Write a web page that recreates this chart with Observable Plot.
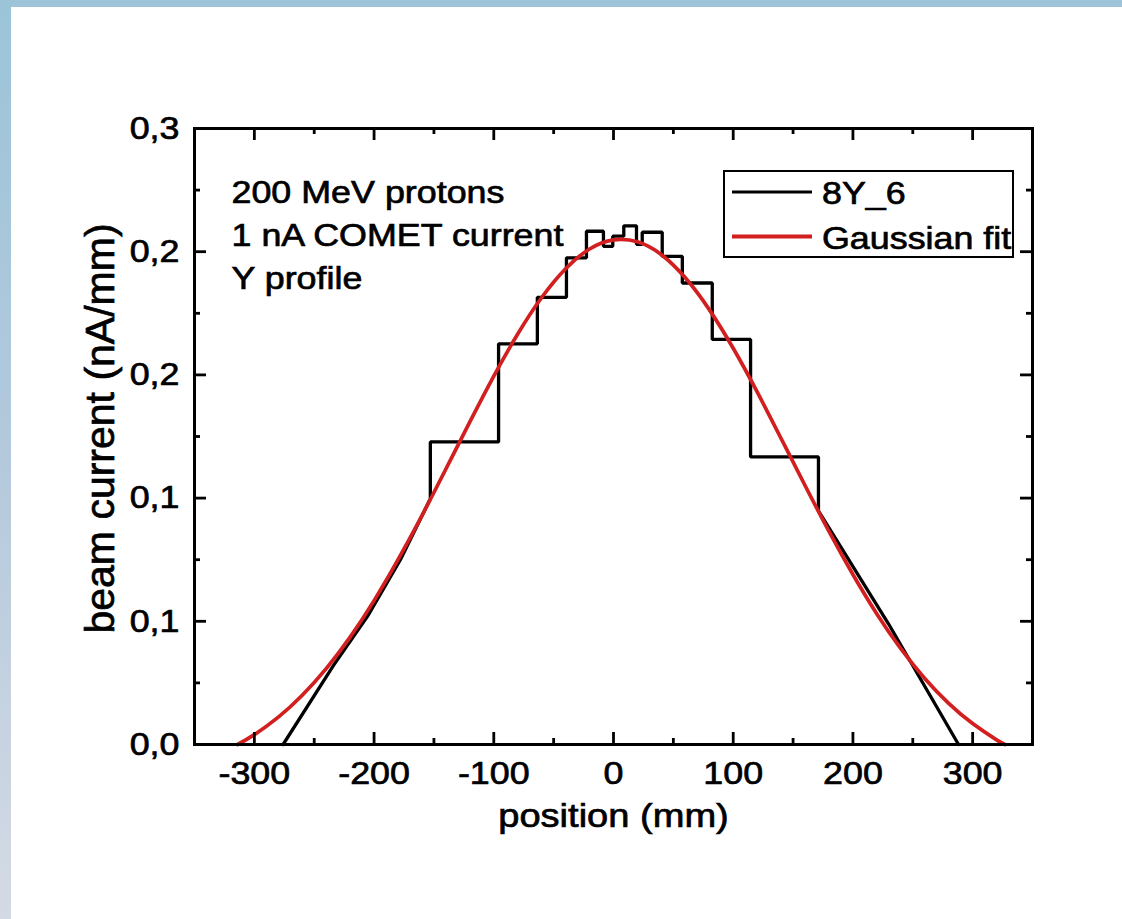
<!DOCTYPE html>
<html><head><meta charset="utf-8">
<script src="https://cdn.jsdelivr.net/npm/d3@7"></script>
<script src="https://cdn.jsdelivr.net/npm/@observablehq/plot@0.6"></script>
<style>
html,body{margin:0;padding:0;background:#fff;}
#wrap{position:relative;width:1122px;height:919px;overflow:hidden;background:#fff;}
#topbar{position:absolute;left:0;top:0;width:1122px;height:7px;background:#9dc4d8;z-index:2}
#leftbar{position:absolute;left:0;top:0;width:11px;height:919px;background:linear-gradient(#9bc4d9,#b4c9dc 50%,#d4dae4);z-index:2}
#chart{position:absolute;left:0;top:0;}
</style></head><body>
<div id="wrap"><div id="chart"></div><div id="topbar"></div><div id="leftbar"></div></div>
<script>
// ---- data ----
const blackX = [-276,-234,-205.5,-178,-153,-153,-96,-96,-63.6,-63.6,-39.3,-39.3,-22.6,-22.6,-8.4,-8.4,-0.6,-0.6,8.6,8.6,19.2,19.2,24,24,40.7,40.7,57.5,57.5,82.5,82.5,114.5,114.5,171.2,171.2,229.7,288.2];
const blackY = [0,0.032,0.052,0.075,0.0997,0.1228,0.1228,0.1626,0.1626,0.1815,0.1815,0.1975,0.1975,0.2083,0.2083,0.2022,0.2022,0.2063,0.2063,0.2105,0.2105,0.2030,0.2030,0.2079,0.2079,0.1981,0.1981,0.1873,0.1873,0.1644,0.1644,0.1167,0.1167,0.0948,0.0490,0];
const redX = [-314,-300,-280,-260,-240,-220,-200,-180,-160,-140,-120,-100,-80,-60,-40,-20,0,20,40,60,80,100,120,140,160,180,200,220,240,260,280,300,320,327];
const redY = [0,0.0040,0.0111,0.0200,0.0308,0.0436,0.0584,0.0750,0.0929,0.1118,0.1309,0.1495,0.1666,0.1814,0.1931,0.2011,0.2048,0.2040,0.1988,0.1894,0.1765,0.1608,0.1431,0.1242,0.1051,0.0865,0.0690,0.0530,0.0389,0.0268,0.0167,0.0085,0.0019,0];
const xTicks = [-300,-200,-100,0,100,200,300];
const xTickLabels = ["-300","-200","-100","0","100","200","300"];
const xMinorTicks = [-250,-150,-50,50,150,250];
const yTicks = [0,0.05,0.1,0.15,0.2,0.25];
const yTickLabels = ["0,0","0,1","0,1","0,2","0,2","0,3"];
const yMinorTicks = [0.025,0.075,0.125,0.175,0.225];
const annotation = ["200 MeV protons","1 nA COMET current","Y profile"];
const seriesNames = ["8Y_6","Gaussian fit"];
const seriesColors = ["black","#d21f1f"];
const xTitle = "position (mm)";
const yTitle = "beam current (nA/mm)";

// ---- layout ----
const W=1122,H=919,mL=194,mR=90,mT=128,mB=175;
const pw=W-mL-mR, ph=H-mT-mB;
const FONT='"Liberation Sans", Arial, Helvetica, sans-serif';
const MAJ=12, MIN=6, TW=2.8, TXT_STROKE=0.7;
const black = blackX.map((x,i)=>({x,y:blackY[i]}));
const red = redX.map((x,i)=>({x,y:redY[i]}));

const plot = Plot.plot({
  width:W,height:H,marginLeft:mL,marginRight:mR,marginTop:mT,marginBottom:mB,
  style:{background:"transparent",fontFamily:FONT,fontSize:"32px",color:"black"},
  x:{domain:[-350,350]},
  y:{domain:[0,0.25]},
  marks:[
    Plot.line(black,{x:"x",y:"y",stroke:seriesColors[0],strokeWidth:3.3,strokeLinejoin:"miter"}),
    Plot.line(red,{x:"x",y:"y",stroke:seriesColors[1],strokeWidth:3.7,curve:"natural"}),
    Plot.tickX(xTicks,{x:d=>d,insetTop:ph-MAJ,stroke:"black",strokeWidth:TW}),
    Plot.tickX(xTicks,{x:d=>d,insetBottom:ph-MAJ,stroke:"black",strokeWidth:TW}),
    Plot.tickX(xMinorTicks,{x:d=>d,insetTop:ph-MIN,stroke:"black",strokeWidth:TW}),
    Plot.tickX(xMinorTicks,{x:d=>d,insetBottom:ph-MIN,stroke:"black",strokeWidth:TW}),
    Plot.tickY(yTicks,{y:d=>d,insetRight:pw-MAJ,stroke:"black",strokeWidth:TW}),
    Plot.tickY(yTicks,{y:d=>d,insetLeft:pw-MAJ,stroke:"black",strokeWidth:TW}),
    Plot.tickY(yMinorTicks,{y:d=>d,insetRight:pw-MIN,stroke:"black",strokeWidth:TW}),
    Plot.tickY(yMinorTicks,{y:d=>d,insetLeft:pw-MIN,stroke:"black",strokeWidth:TW}),
    Plot.frame({stroke:"black",strokeWidth:3}),
    Plot.axisX(xTicks,{tickSize:0,tickPadding:17,tickFormat:d=>xTickLabels[xTicks.indexOf(d)],label:null,fontSize:32}),
    Plot.axisY(yTicks,{tickSize:0,tickPadding:15,tickFormat:d=>yTickLabels[yTicks.indexOf(d)],label:null,fontSize:32}),
    Plot.text([xTitle],{frameAnchor:"bottom",dy:72,text:d=>d,textAnchor:"middle",lineAnchor:"middle",fontSize:34}),
    Plot.text([yTitle],{frameAnchor:"left",dx:-94,dy:-8,rotate:-90,text:d=>d,textAnchor:"middle",lineAnchor:"middle",fontSize:41}),
    Plot.text([annotation.join("\n")],{frameAnchor:"top-left",dx:37,dy:44,text:d=>d,textAnchor:"start",lineAnchor:"top",lineHeight:1.34,fontSize:32})
  ]
});

// slight horizontal widening of horizontal text, as in the reference
plot.querySelectorAll("text").forEach(t=>{
  const tr=t.getAttribute("transform")||"";
  if(tr.includes("translate") && !tr.includes("rotate")) t.setAttribute("transform", tr+" scale(1.12,1)");
});

// legend inside the plot area
const svg = d3.select(plot);
const lg = svg.append("g");
const bx0 = W-mR-308, by0 = mT+43, bw = 289, bh = 86;
lg.append("rect").attr("x",bx0).attr("y",by0).attr("width",bw).attr("height",bh)
  .attr("fill","white").attr("stroke","black").attr("stroke-width",2);
seriesNames.forEach((name,i)=>{
  const cy = by0 + 21 + i*44.5;
  lg.append("line").attr("x1",bx0+8).attr("x2",bx0+88).attr("y1",cy).attr("y2",cy)
    .attr("stroke",seriesColors[i]).attr("stroke-width",i?4:3.2);
  lg.append("text").attr("transform",`translate(${bx0+98},${cy+12}) scale(1.12,1)`)
    .attr("text-anchor","start")
    .attr("font-family",FONT).attr("font-size",32).attr("fill","black").text(name);
});

// heavier text, as in the reference
svg.selectAll("text").attr("stroke","black").attr("stroke-width",TXT_STROKE).attr("paint-order","stroke");

document.getElementById("chart").appendChild(plot);
</script>
</body></html>
